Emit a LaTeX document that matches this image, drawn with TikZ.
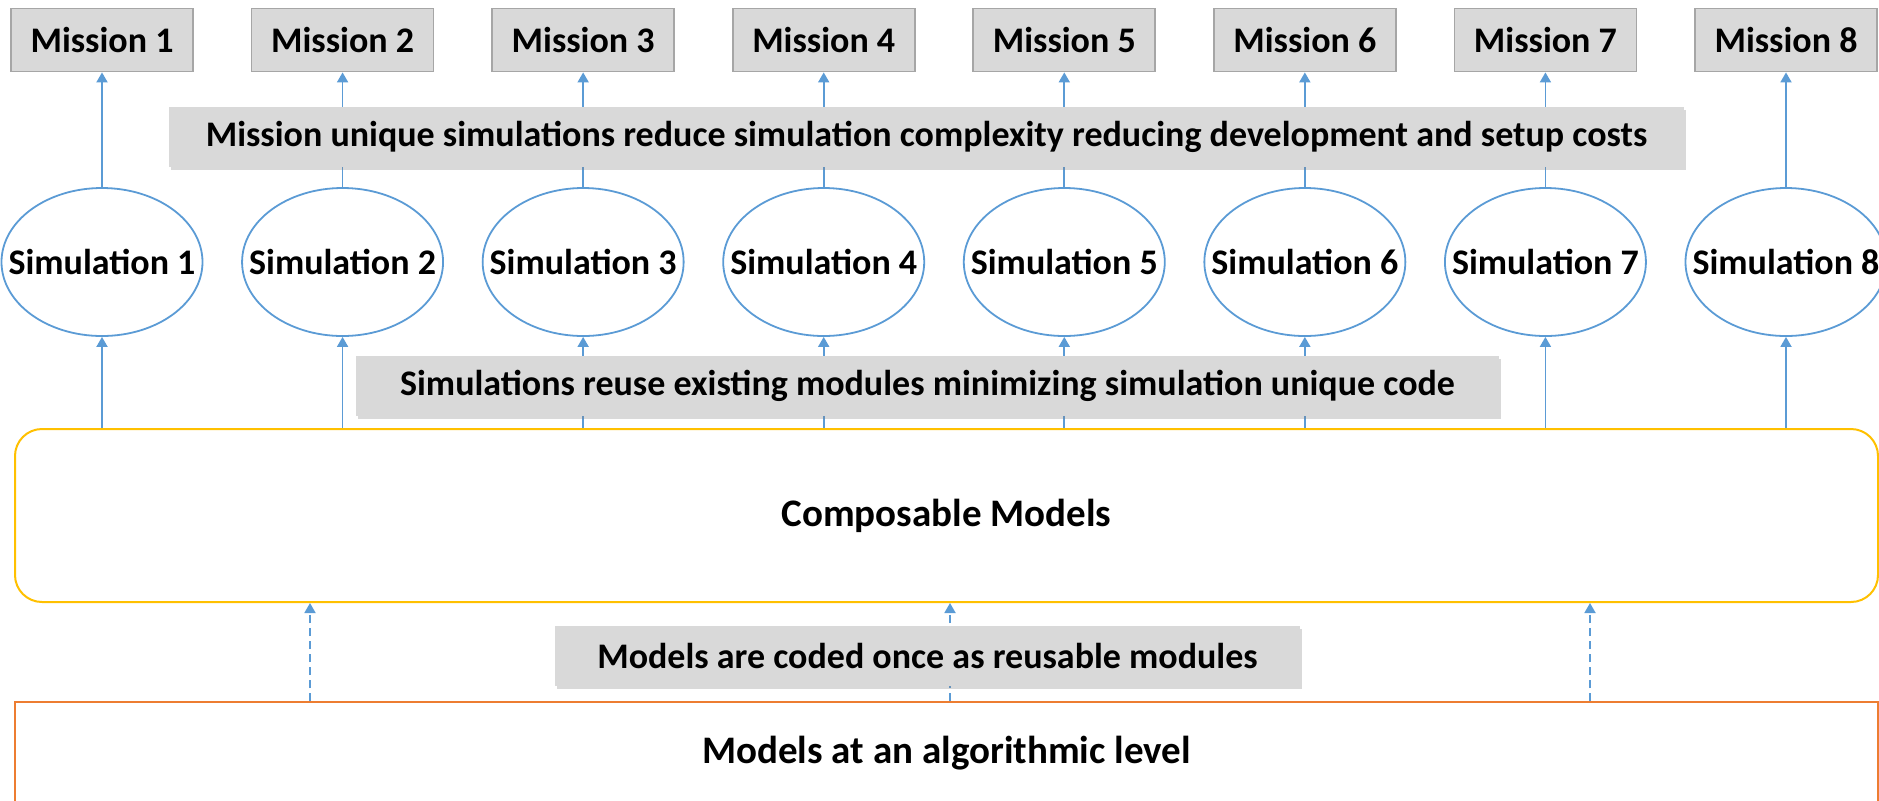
\documentclass[tikz,border=0pt]{standalone}
\usepackage{fontspec}
\setmainfont{Carlito}
\usetikzlibrary{arrows.meta,shapes.geometric,shadows,positioning}

\definecolor{linkblue}{HTML}{5B9BD5}
\definecolor{boxgray}{HTML}{D9D9D9}
\definecolor{edgegray}{HTML}{A6A6A6}
\definecolor{gold}{HTML}{FFC000}
\definecolor{rust}{HTML}{ED7D31}

\tikzstyle{missionbox}=[
    draw=edgegray,
    fill=boxgray,
    line width=0.9pt,
    minimum width=91pt,
    minimum height=31.5pt,
    inner sep=0pt,
  ]
\tikzstyle{simnode}=[
    ellipse,
    draw=linkblue,
    line width=0.9pt,
    minimum width=100.5pt,
    minimum height=74pt,
    inner sep=0pt,
  ]
\tikzstyle{note}=[
    fill=boxgray,
    drop shadow={shadow xshift=1pt, shadow yshift=-1.5pt, opacity=0.3},
    minimum height=30pt,
    inner sep=0pt,
  ]
\tikzstyle{layer}=[
    line width=1pt,
    minimum width=931.5pt,
    inner sep=0pt,
    font=\fontsize{19.5}{22}\selectfont\bfseries,
  ]
\tikzstyle{up}=[
    -{Triangle[width=5.5pt,length=5pt]},
    draw=linkblue,
    line width=0.9pt,
  ]
\tikzstyle{dashup}=[
    up,
    dash pattern=on 4pt off 2.5pt,
  ]

\begin{document}
\begin{tikzpicture}[x=0.5pt, y=-0.5pt,
    every node/.style={font=\fontsize{18}{21}\selectfont\bfseries}]
      \useasboundingbox (0,0) rectangle (1879,800);
      \foreach \i in {1,...,8} {%
        \pgfmathsetmacro\px{102+240.57*(\i-1)}
        \node[missionbox] (mis\i) at (\px, 40) {Mission \i};
        \node[simnode] (sim\i) at (\px, 262) {\makebox[0pt]{Simulation \i}};
      }
      \node[layer, draw=gold, rounded corners=13.5pt, minimum height=86.5pt] (comp) at (946.5, 515.5) {Composable Models};
      \node[layer, draw=rust, minimum height=51pt] (algo) at (946.5, 753) {Models at an algorithmic level};
      \foreach \i in {1,...,8} {%
        \draw[up] (sim\i.north) -- (mis\i.south);
        \draw[up] (sim\i |- comp.north) -- (sim\i.south);
      }
      \foreach \x in {310, 950, 1590} {%
        \draw[dashup] (\x,0 |- algo.north) -- (\x,0 |- comp.south);
      }
      \node[note, minimum width=757.5pt] (uniq) at (926.5, 137) {Mission unique simulations reduce simulation complexity reducing development and setup costs~};
      \node[note, minimum width=571.5pt] (reuse) at (927.5, 386) {Simulations reuse existing modules minimizing simulation unique code};
      \node[note, minimum width=372.5pt] (coded) at (927.5, 655.5) {Models are coded once as reusable modules};
    \end{tikzpicture}
\end{document}
